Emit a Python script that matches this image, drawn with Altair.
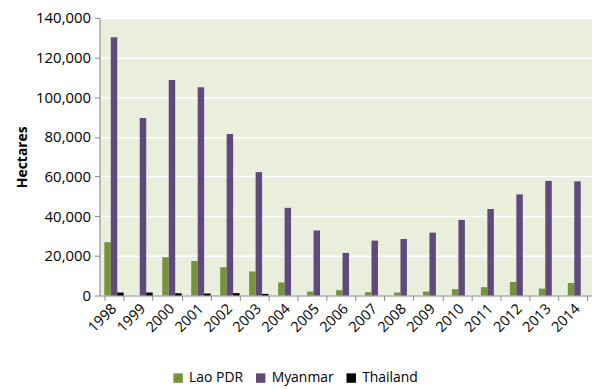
import altair as alt
import pandas as pd

years = [str(y) for y in range(1998, 2015)]
lao = [26900, 0, 19300, 17400, 14300, 12100, 6600, 2000, 2700, 1700, 1500, 2000, 3200, 4200, 6800, 3500, 6300]
myanmar = [130300, 89500, 108700, 105000, 81400, 62200, 44200, 32800, 21500, 27700, 28500, 31700, 38100, 43600, 51000, 57800, 57600]
thailand = [1500, 1500, 1100, 1000, 1200, 800, 0, 0, 0, 0, 0, 0, 0, 0, 0, 0, 0]
series = ["Lao PDR", "Myanmar", "Thailand"]
colors = ["#77933C", "#604A7B", "#000000"]

rows = []
for i, y in enumerate(years):
    for s, vals in zip(series, [lao, myanmar, thailand]):
        rows.append({"Year": y, "Country": s, "Hectares": vals[i]})
df = pd.DataFrame(rows)

font = "Open Sans"

chart = alt.Chart(df).mark_bar().encode(
    x=alt.X("Year:N", sort=years,
            scale=alt.Scale(paddingInner=0.33, paddingOuter=0.165),
            axis=alt.Axis(title=None, labelAngle=-45, labelAlign="right", labelBaseline="middle",
                          labelFontSize=14.5, labelFont=font, labelColor="#000000", labelPadding=6,
                          tickBand="extent", tickSize=5, tickColor="#868686",
                          domainColor="#868686", grid=False)),
    xOffset=alt.XOffset("Country:N", sort=series),
    y=alt.Y("Hectares:Q",
            scale=alt.Scale(domain=[0, 140000], nice=False),
            axis=alt.Axis(title="Hectares", titleFontSize=14, titleFont=font, titleFontWeight="bold",
                          titleColor="#000000", titlePadding=6,
                          values=list(range(0, 140001, 20000)), format=",d",
                          labelFontSize=15, labelFont=font, labelColor="#000000", labelPadding=4,
                          tickSize=5, tickColor="#868686", domainColor="#868686",
                          gridColor="#FFFFFF", gridWidth=1.5)),
    color=alt.Color("Country:N", sort=series,
                    scale=alt.Scale(domain=series, range=colors),
                    legend=alt.Legend(title=None, orient="none", direction="horizontal",
                                      legendX=72, legendY=355, symbolType="square",
                                      symbolSize=90, symbolStrokeWidth=0,
                                      labelFontSize=14, labelFont=font, labelColor="#000000",
                                      columnPadding=10)),
).properties(
    width=495, height=279,
    padding={"left": 92, "top": 9, "right": 0, "bottom": 93},
    autosize=alt.AutoSizeParams(type="none"),
    background="#FFFFFF",
).configure_view(
    fill="#E9EEDD", stroke=None
)

chart.save("out.html", embed_options={"renderer": "svg", "actions": False})
